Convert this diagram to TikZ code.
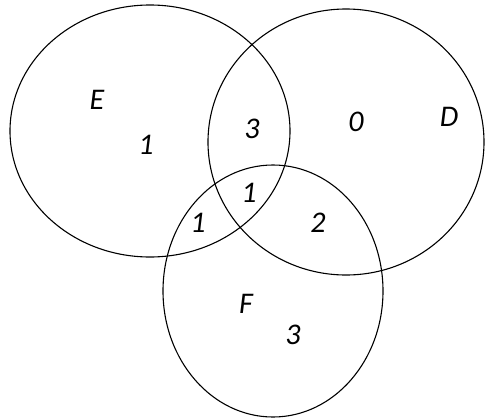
\documentclass[tikz,border=0pt]{standalone}
\usepackage{fontspec}
\setmainfont{Carlito}
\usepackage{tikz}
\usetikzlibrary{shapes.geometric}
\tikzset{
    setshape/.style={ellipse, draw, line width=1.1pt, inner sep=0pt, outer sep=0pt},
    region/.style={font=\itshape\fontsize{30}{30}\selectfont, inner sep=0pt}
}

\begin{document}
\begin{tikzpicture}[x=1pt, y=-1pt]
            \useasboundingbox (0,0) rectangle (485,418);

            % the three sets E, D, F
            \node[setshape, minimum width=280pt, minimum height=252pt] (setE) at (150,131) {};
            \node[setshape, minimum width=276pt, minimum height=266pt] (setD) at (346,142) {};
            \node[setshape, minimum width=220pt, minimum height=252pt] (setF) at (273,291) {};

            % set names
            \node[region] (nameE) at (97,100) {E};
            \node[region] (nameD) at (449,117) {D};
            \node[region] (nameF) at (246,304) {F};

            % counts in each region
            \node[region] (onlyE)  at (146,145) {1};
            \node[region] (onlyD)  at (356,122) {0};
            \node[region] (onlyF)  at (293,335) {3};
            \node[region] (ED)     at (252,129) {3};
            \node[region] (EF)     at (198,223) {1};
            \node[region] (DF)     at (318,223) {2};
            \node[region] (EDF)    at (249,193) {1};
        \end{tikzpicture}
\end{document}
